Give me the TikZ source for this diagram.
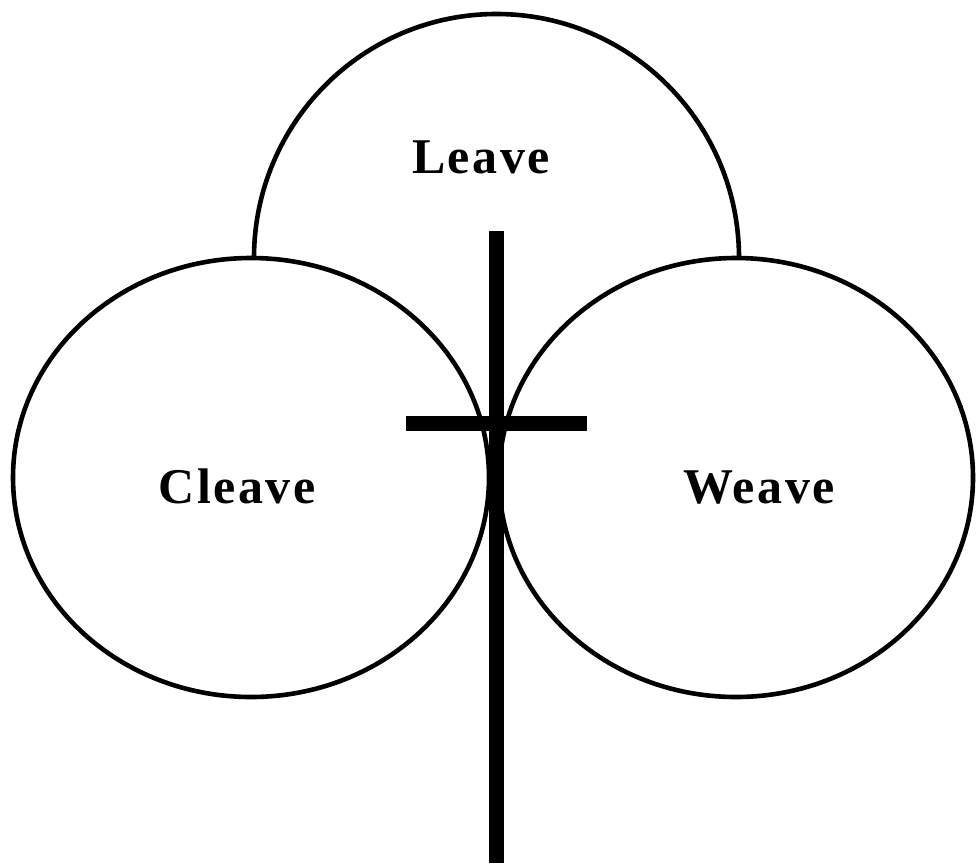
\documentclass[tikz,border=0pt]{standalone}
\usepackage{fontspec}
\setmainfont{Liberation Serif}
\begin{document}
\begin{tikzpicture}[x=1pt,y=-1pt,
  petal/.style={draw=black,line width=4.6pt,fill=white},
  bar/.style={fill=black,draw=none},
  word/.style={font=\fontsize{50}{60}\selectfont\bfseries\addfontfeatures{LetterSpace=5},anchor=base,inner sep=0pt}]
\useasboundingbox (0,0) rectangle (977,863);
\path[petal] (496.5,258) ellipse [x radius=242.5pt, y radius=244pt];
\path[petal] (251,477.5) ellipse [x radius=238pt, y radius=219.5pt];
\path[petal] (736,477.5) ellipse [x radius=237pt, y radius=219.5pt];
\node[word] (leave) at (481,173) {Leave};
\node[word] (cleave) at (237,503) {Cleave};
\node[word] (weave) at (759,503) {Weave};
\fill[bar] (488.5,231) rectangle (503.5,863);
\fill[bar] (406,416) rectangle (587,431);
\end{tikzpicture}
\end{document}
